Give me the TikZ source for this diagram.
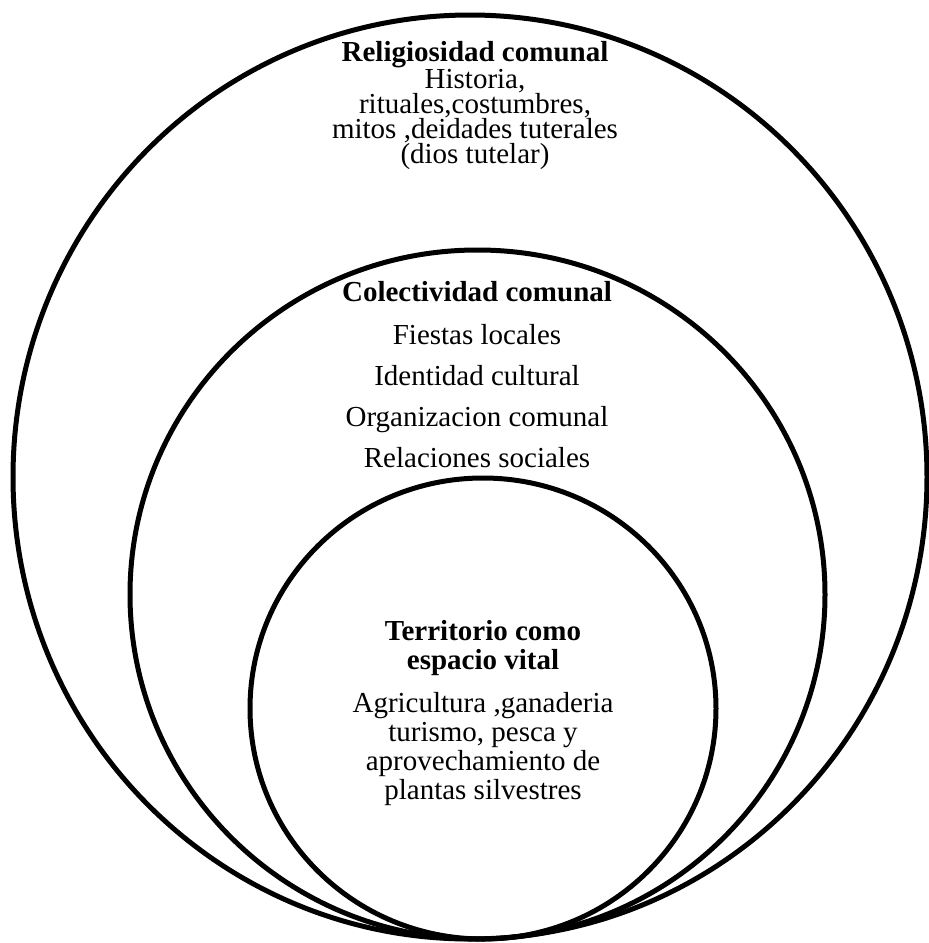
\documentclass[tikz,border=0pt]{standalone}
\usepackage{fontspec}
\setmainfont{Liberation Serif}
\usetikzlibrary{shapes.geometric}
\tikzset{
  ring/.style={draw, ellipse, line width=5pt, inner sep=0pt},
  txt/.style={anchor=base, inner sep=0pt, align=center},
}
\begin{document}
\begin{tikzpicture}[x=1pt, y=-1pt]
    \useasboundingbox (0,0) rectangle (929,943);
    \node (1) [ring, minimum width=914pt, minimum height=924pt] at (470,477) {};
    \node (2) [ring, minimum width=695pt, minimum height=689pt] at (477.5,594.5) {};
    \node (3) [ring, minimum width=466pt, minimum height=461pt] at (483,708.5) {};
    \node (r) [txt, font=\fontsize{29}{25}\selectfont] at (475,163)
      {\textbf{Religiosidad comunal}\\ Historia,\\ rituales,costumbres,\\
       mitos ,deidades tuterales\\ (dios tutelar)};
    \node (c) [txt, font=\fontsize{29}{41}\selectfont] at (477,467)
      {\textbf{Colectividad comunal}\\[2pt] Fiestas locales\\ Identidad cultural\\
       Organizacion comunal\\ Relaciones sociales};
    \node (t) [txt, font=\fontsize{29}{29}\selectfont] at (483,799)
      {\textbf{Territorio como}\\ \textbf{espacio vital}\\[14pt]
       Agricultura ,ganaderia\\ turismo, pesca y\\ aprovechamiento de\\ plantas silvestres};
\end{tikzpicture}
\end{document}
